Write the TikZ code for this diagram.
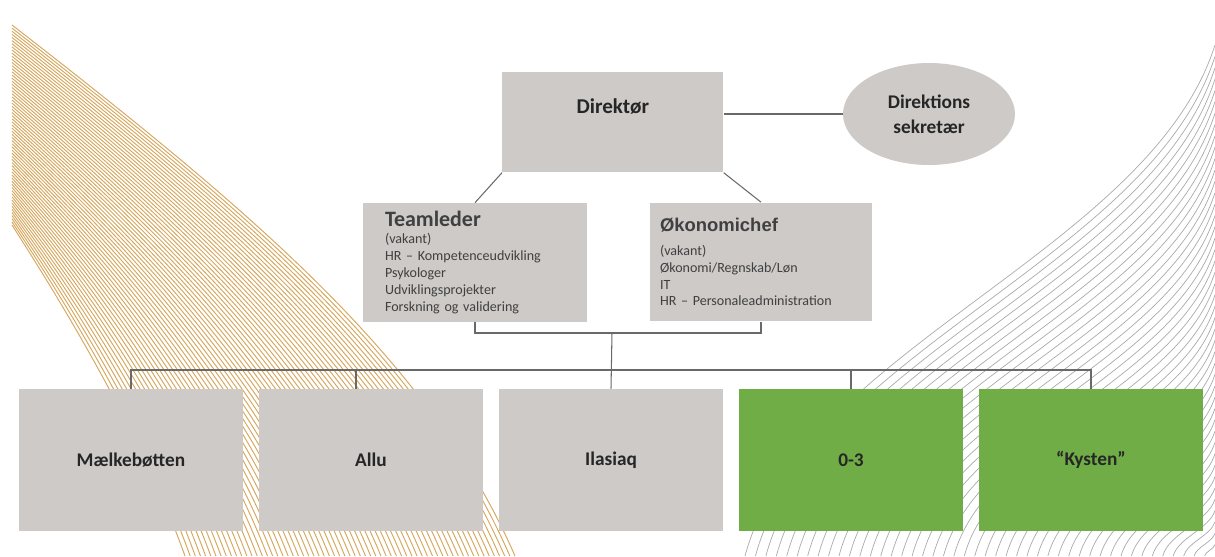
\documentclass[tikz,border=0pt]{standalone}
\usepackage{fontspec}
\setmainfont{Carlito}
\newfontfamily\arialfont{Liberation Sans}
\usetikzlibrary{shapes.geometric}

\definecolor{boxgrey}{RGB}{205,202,200}
\definecolor{boxgreen}{RGB}{112,173,71}
\definecolor{linegrey}{RGB}{105,105,105}
\definecolor{fangold}{RGB}{214,168,96}
\definecolor{swoosh}{RGB}{170,170,170}

\begin{document}
\begin{tikzpicture}[x=0.02cm, y=-0.02cm]
    \tikzstyle{link}=[draw=linegrey, line width=0.6pt]
    \tikzstyle{unit}=[rectangle, fill=boxgrey, inner sep=0pt, minimum width=4.5cm, minimum height=2.84cm, font=\fontsize{11}{13}\selectfont\bfseries, text=black!85]
    \tikzstyle{staff}=[rectangle, fill=boxgrey, inner sep=0pt, inner xsep=0.44cm, minimum width=4.48cm, minimum height=2.38cm, text width=3.6cm, align=left, font=\fontsize{8}{9.6}\selectfont, text=black!75]
    \tikzstyle{aide}=[ellipse, fill=boxgrey, inner sep=0pt, minimum width=3.44cm, minimum height=2.04cm, align=center, font=\fontsize{11}{14}\selectfont\bfseries, text=black!85]

    \useasboundingbox (0,0) rectangle (1215,556);

    % background swooshes
    \begin{scope}
    \clip (0,0) rectangle (1215,556);
    \foreach \i in {0,...,64} {
      \pgfmathsetmacro\s{\i/64}
      \draw[fangold, line width=0.55pt] (12,25+200*\s) .. controls (250-190*\s,210+90*\s) and (430-290*\s,360+70*\s) .. (515-330*\s,556);
    }
    \foreach \i in {0,...,44} {
      \pgfmathsetmacro\f{1-\i/45}
      \draw[swoosh, line width=0.4pt] (1215-470*\f,556) .. controls (1215-415*\f,556-206*\f) and (1215-65*\f,556-306*\f) .. (1215,556-511*\f);
    }
    \end{scope}

    % top level
    \node[unit, anchor=north west, minimum width=4.42cm, minimum height=0pt, text height=0.82cm, text depth=1.18cm, font=\fontsize{12}{14}\selectfont\bfseries] (dir) at (502,72) {Direktør};
    \node[aide] (sek) at (929,114) {Direktions\\sekretær};

    % staff functions
    \node[staff] (team) at (475,262.5) {{\fontsize{12.5}{14}\selectfont\bfseries Teamleder}\\
      (vakant)\\
      HR -- Kompetenceudvikling\\
      Psykologer\\
      Udviklingsprojekter\\
      Forskning og validering};
    \node[staff, inner xsep=0.2cm, minimum width=4.44cm, text width=4.04cm] (oek) at (761,262) {{\arialfont\fontsize{10.5}{12}\selectfont\bfseries Økonomichef}\\[4pt]
      (vakant)\\
      Økonomi/Regnskab/Løn\\
      IT\\
      HR -- Personaleadministration};

    % units
    \foreach \i/\nm/\txt/\col in {0/mael/Mælkebøtten/boxgrey, 1/allu/Allu/boxgrey, 2/ilas/Ilasiaq/boxgrey, 3/nul/0-3/boxgreen, 4/kyst/“Kysten”/boxgreen}
      \node[unit, fill=\col] (\nm) at (131+240*\i,460) {\txt};

    % connect director with secretary and staff
    \draw[link] (sek.west -| dir.east) -- (sek.west);
    \draw[link] (dir.south west) -- (team.north);
    \draw[link] (dir.south east) -- (oek.north);

    % staff joined and led down to the units
    \coordinate (hub) at (612,333);
    \coordinate (bus) at (612,370);
    \draw[link] (team.south) |- (hub) -| (oek.south);
    \draw[link] (hub) -- (ilas.north);
    \draw[link] (mael.north) |- (bus) -| (kyst.north);
    \coordinate (alludrop) at ([xshift=-0.3cm]allu.north);
    \draw[link] (alludrop) -- (alludrop |- bus);
    \draw[link] (nul.north) -- (nul.north |- bus);
\end{tikzpicture}
\end{document}
